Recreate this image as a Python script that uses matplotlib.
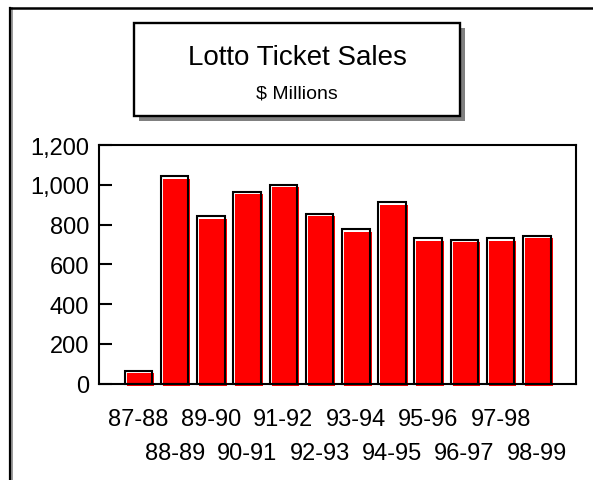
import matplotlib
matplotlib.use("Agg")
import matplotlib.pyplot as plt
import matplotlib.transforms as mtransforms
from matplotlib.patches import Rectangle
from matplotlib.lines import Line2D

# Lotto ticket sales by fiscal year, $ millions
seasons = ["87-88", "88-89", "89-90", "90-91", "91-92", "92-93",
           "93-94", "94-95", "95-96", "96-97", "97-98", "98-99"]
sales = [65, 1043, 842, 964, 999, 853, 777, 912, 732, 723, 732, 743]
y_ticks = [0, 200, 400, 600, 800, 1000, 1200]
y_tick_labels = ["0", "200", "400", "600", "800", "1,000", "1,200"]

W, H, DPI = 593, 481, 100
fig = plt.figure(figsize=(W / DPI, H / DPI), dpi=DPI)
fig.patch.set_facecolor("white")

regular = ["Liberation Sans", "DejaVu Sans"]

def fx(px):
    return px / W

def fy(py):
    return 1 - py / H

# page frame (left and top rules)
fig.add_artist(Line2D([fx(11.5), fx(11.5)], [fy(9), 0], color="#888888", lw=1.2))
fig.add_artist(Line2D([fx(9.5), fx(9.5)], [fy(8.5), 0], color="black", lw=1.6))
fig.add_artist(Line2D([fx(9.5), 1.0], [fy(8.5), fy(8.5)], color="black", lw=1.8))

# title box with drop shadow
bx0, bx1, by0, by1 = 134, 460, 24, 117
fig.add_artist(Rectangle((fx(bx0 + 5), fy(by1 + 5)), fx(bx1 - bx0), fy(by0) - fy(by1),
                         facecolor="#808080", edgecolor="none", zorder=1))
fig.add_artist(Rectangle((fx(bx0), fy(by1)), fx(bx1 - bx0), fy(by0) - fy(by1),
                         facecolor="white", edgecolor="black", lw=1.7, zorder=2))
fig.text(fx((bx0 + bx1) / 2), fy(58), "Lotto Ticket Sales", ha="center", va="center",
         fontsize=20, family=regular, zorder=3)
fig.text(fx((bx0 + bx1) / 2), fy(94), "$ Millions", ha="center", va="center",
         fontsize=14, family=regular, zorder=3)

# plot area
ax = fig.add_axes([fx(99), fy(384.5), fx(576 - 99), fy(146) - fy(384.5)])
ax.set_xlim(-1.09, 12.08)
ax.set_ylim(0, 1200)

x = list(range(len(seasons)))
bar_w = 0.76
shift = mtransforms.offset_copy(ax.transData, fig=fig, x=2.0, y=-2.5, units="dots")
ax.bar(x, sales, width=bar_w, color="#ff0000", edgecolor="none",
       transform=shift, zorder=2, clip_on=False)
ax.bar(x, sales, width=bar_w, facecolor="none", edgecolor="black",
       linewidth=1.5, zorder=3, clip_on=False)

for s in ax.spines.values():
    s.set_linewidth(1.5)
    s.set_zorder(4)

ax.set_yticks(y_ticks)
ax.set_yticklabels(y_tick_labels, family=regular, fontsize=17)
ax.tick_params(axis="y", direction="in", length=9, width=1.5, pad=7)
ax.set_xticks([])

# category labels on two staggered rows
lab_tr = mtransforms.blended_transform_factory(ax.transData, fig.transFigure)
for i, lab in enumerate(seasons):
    yy = fy(420) if i % 2 == 0 else fy(454)
    ax.text(i, yy, lab, transform=lab_tr, ha="center", va="center",
            fontsize=17, family=regular, clip_on=False)

fig.savefig("out.png", dpi=DPI, facecolor="white")
